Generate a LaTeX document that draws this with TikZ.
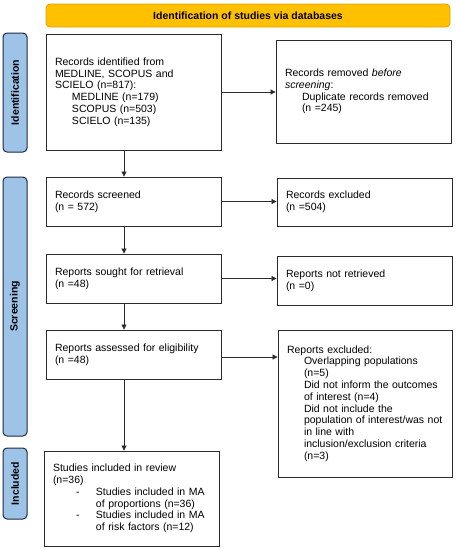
\documentclass[tikz,border=0pt]{standalone}
\usepackage{fontspec}
\setmainfont{Liberation Sans}
\usetikzlibrary{arrows.meta}
\definecolor{bannerfill}{HTML}{FFC000}
\definecolor{bannerdraw}{HTML}{D9A300}
\definecolor{sidefill}{HTML}{9DC3E6}
\definecolor{sidedraw}{HTML}{1F2A44}
\definecolor{boxdraw}{HTML}{2B2B2B}
\newcommand{\ind}{\hspace*{17pt}}
\newcommand{\bul}{\hspace*{23pt}\makebox[20pt][l]{-}}
\newcommand{\bulc}{\hspace*{43pt}}
\begin{document}
\begin{tikzpicture}[x=1pt,y=-1pt,
  txt/.style={font=\fontsize{10.5}{11.8}\selectfont},
  prbox/.style={draw=boxdraw, line width=0.8pt, fill=white, txt, align=left,
    inner xsep=9pt, inner ysep=2pt, minimum width=175pt, text width=157pt},
  banner/.style={draw=bannerdraw, line width=0.8pt, fill=bannerfill, rounded corners=4pt,
    minimum width=404pt, minimum height=23pt, font=\bfseries\fontsize{10.5}{12}\selectfont},
  side/.style={draw=sidedraw, line width=1pt, fill=sidefill, rounded corners=4pt,
    rotate=90, minimum height=24pt, font=\bfseries\fontsize{10.5}{12}\selectfont},
  arr/.style={draw=boxdraw, line width=0.7pt, -{Triangle[length=5pt,width=5pt]}}]
\useasboundingbox (0,0) rectangle (456,550);
\node[banner] (ban) at (248,15.5) {Identification of studies via databases};
\node[side, minimum width=119pt] (sid) at (15,92.5) {Identification};
\node[side, minimum width=259pt] (sscr) at (15,306.5) {Screening};
\node[side, minimum width=71pt] (sinc) at (15,483.5) {Included};

\node[prbox, minimum height=116pt] (b1) at (133.5,92) {Records identified from\\MEDLINE, SCOPUS and\\SCIELO (n=817):\\\ind MEDLINE (n=179)\\\ind SCOPUS (n=503)\\\ind SCIELO (n=135)};
\node[prbox, minimum height=103pt] (b2) at (363.5,91.5) {Records removed \textit{before}\\\textit{screening}:\\\ind Duplicate records removed\\\ind (n =245)};
\node[prbox, minimum height=49pt] (b3) at (133.5,201.5) {Records screened\\(n = 572)};
\node[prbox, minimum height=48pt] (b4) at (364.5,202) {Records excluded\\(n =504)};
\node[prbox, minimum height=49pt] (b5) at (133.5,278.5) {Reports sought for retrieval\\(n =48)};
\node[prbox, minimum height=49pt] (b6) at (364.5,280.5) {Reports not retrieved\\(n =0)};
\node[prbox, minimum height=49pt] (b7) at (133.5,354.5) {Reports assessed for eligibility\\(n =48)};
\node[prbox, minimum height=147pt, minimum width=174pt, text width=156pt] (b8) at (365,403.5) {Reports excluded:\\\ind Overlapping populations\\\ind (n=5)\\\ind Did not inform the outcomes\\\ind of interest (n=4)\\\ind Did not include the\\\ind population of interest/was not\\\ind in line with\\\ind inclusion/exclusion criteria\\\ind (n=3)};
\node[prbox, minimum height=95pt] (b9) at (131.5,498.5) {Studies included in review\\(n=36)\\\bul Studies included in MA\\\bulc of proportions (n=36)\\\bul Studies included in MA\\\bulc of risk factors (n=12)};

\draw[arr] (b1.east) -- (b1.east -| b2.west);
\draw[arr] (b3.east) -- (b3.east -| b4.west);
\draw[arr] (b5.east) -- (b5.east -| b6.west);
\draw[arr] ([yshift=-2.5pt]b7.east) -- ([yshift=-2.5pt]b7.east -| b8.west);
\draw[arr] ([xshift=-9.5pt]b1.south) -- ([xshift=-9.5pt]b1.south |- b3.north);
\draw[arr] ([xshift=-9.5pt]b3.south) -- ([xshift=-9.5pt]b3.south |- b5.north);
\draw[arr] ([xshift=-9.5pt]b5.south) -- ([xshift=-9.5pt]b5.south |- b7.north);
\draw[arr] ([xshift=-9.5pt]b7.south) -- ([xshift=-9.5pt]b7.south |- b9.north);
\end{tikzpicture}
\end{document}
